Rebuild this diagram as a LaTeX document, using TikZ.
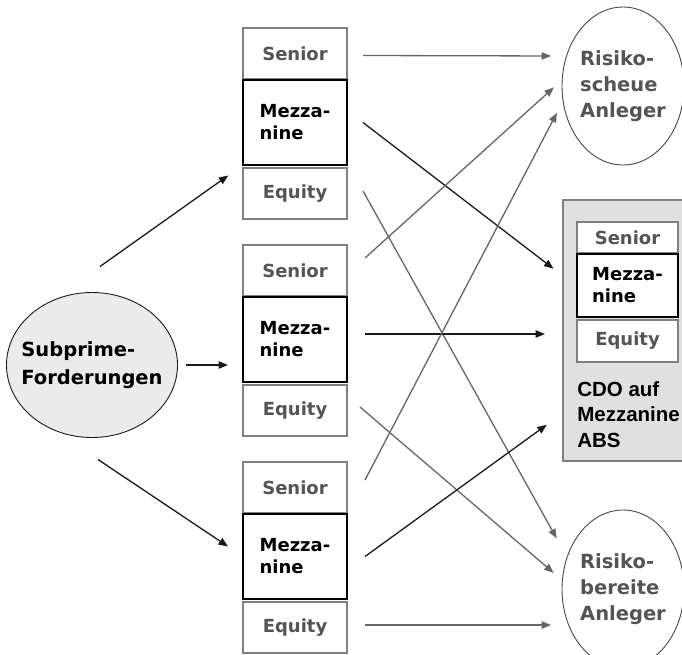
\documentclass[tikz,border=0pt]{standalone}
\usepackage{fontspec}
\setmainfont{DejaVu Sans}
\newfontfamily\cdofont{Liberation Sans}
\usepackage{tikz}
\usetikzlibrary{arrows.meta,positioning,shapes.geometric}
\definecolor{boxgray}{gray}{0.5}
\definecolor{textgray}{gray}{0.33}
\definecolor{arrowgray}{gray}{0.4}
\definecolor{darkline}{gray}{0.1}
\definecolor{cdofill}{gray}{0.88}
\definecolor{subfill}{gray}{0.92}

\begin{document}
\begin{tikzpicture}[>={Triangle[length=9.5pt,width=7.5pt]},x=1pt,y=-1pt,semithick,font=\bfseries\fontsize{18}{22}\selectfont]
\tikzstyle{senior} = [rectangle,draw=boxgray,line width=1.5pt,fill=white,text=textgray,minimum width=104pt,minimum height=51pt,inner sep=0pt,outer sep=0pt]
\tikzstyle{equity} = [senior]
\tikzstyle{mezz} = [rectangle,draw=black,line width=1.6pt,fill=white,minimum width=104pt,minimum height=85pt,inner sep=0pt,outer sep=0pt,align=left]
\tikzstyle{investor} = [ellipse,draw=darkline!80,line width=0.9pt,inner xsep=-20pt,inner ysep=0pt,outer sep=0pt,align=left,text=textgray,minimum width=122pt,minimum height=158pt,font=\bfseries\fontsize{19.5}{26}\selectfont]
    \useasboundingbox (0,0) rectangle (682,654);

    % Forderungen und Tranchen
    \node[investor,fill=subfill,draw=darkline,text=black,minimum width=171pt,minimum height=145pt,font=\bfseries\fontsize{19.5}{28}\selectfont] (sub) at (92,365) {Subprime-\\Forderungen};
    \node[senior] (s1) at (295,53.5) {Senior};
    \node[mezz] (m1) [below=1pt of s1] {Mezza-\\nine};
    \node[equity] (e1) [below=3pt of m1] {Equity};
    \node[senior] (s2) [below=26pt of e1] {Senior};
    \node[mezz] (m2) [below=1pt of s2] {Mezza-\\nine};
    \node[equity] (e2) [below=3pt of m2] {Equity};
    \node[senior] (s3) [below=26pt of e2] {Senior};
    \node[mezz] (m3) [below=1pt of s3] {Mezza-\\nine};
    \node[equity] (e3) [below=3pt of m3] {Equity};

    % CDO
    \node[rectangle,draw=boxgray,line width=1.5pt,fill=cdofill,minimum width=130pt,minimum height=261pt,outer sep=0pt] (cdo) at (628,330.5) {};
    \node[senior,minimum width=101pt,minimum height=31pt] (cs) at (627.5,237.5) {Senior};
    \node[mezz,minimum width=101pt,minimum height=63pt] (cm) [below=1pt of cs] {Mezza-\\nine};
    \node[equity,minimum width=101pt,minimum height=42pt] (ce) [below=3pt of cm] {Equity};
    \node[anchor=north west,align=left,inner sep=0pt,font=\cdofont\bfseries\fontsize{20.5}{25.5}\selectfont] (cdotext) [below right=19pt and 0pt of ce.south west] {CDO auf\\Mezzanine\\ABS};

    % Anleger
    \node[investor] (rs) at (623,86) {Risiko-\\scheue\\Anleger};
    \node[investor] (rb) at (623,589) {Risiko-\\bereite\\Anleger};

    \tikzset{blackarrow/.style={->,draw=darkline,line width=1.3pt,shorten >=12pt}}
    \tikzset{grayarrow/.style={->,draw=arrowgray,line width=1.3pt,shorten >=11pt}}
    \draw ([xshift=8pt,yshift=26pt]sub.north) edge [blackarrow,shorten >=18pt] (m1.south west);
    \draw (sub.east) edge [blackarrow,shorten <=8pt,shorten >=15pt] (sub.east -| m2.west);
    \draw ([xshift=6pt,yshift=-22pt]sub.south) edge [blackarrow,shorten >=18pt] (m3.west);

    \draw ([xshift=16pt,yshift=-2pt]s1.east) edge [grayarrow] ([yshift=30pt]rs.west);
    \draw ([xshift=16pt]m1.east) edge [blackarrow] ([yshift=54.5pt]cdo.west);
    \draw ([xshift=16pt,yshift=2.5pt]e1.east) edge [grayarrow] ([yshift=41pt]rb.west);
    \draw ([xshift=18pt,yshift=12.5pt]s2.east) edge [grayarrow] ([yshift=6pt]rs.west);
    \draw ([xshift=18pt,yshift=5.5pt]m2.east) edge [blackarrow,shorten >=18pt] ([yshift=-3.5pt]cdo.west);
    \draw ([xshift=13pt,yshift=3.5pt]e2.east) edge [grayarrow] ([yshift=9pt]rb.west);
    \draw ([xshift=18pt,yshift=7.5pt]s3.east) edge [grayarrow] ([yshift=-17pt]rs.west);
    \draw ([xshift=18pt]m3.east) edge [blackarrow,shorten >=20pt] ([yshift=-82.5pt]cdo.west);
    \draw ([xshift=18pt,yshift=2.5pt]e3.east) edge [grayarrow] ([yshift=-36pt]rb.west);
\end{tikzpicture}
\end{document}
